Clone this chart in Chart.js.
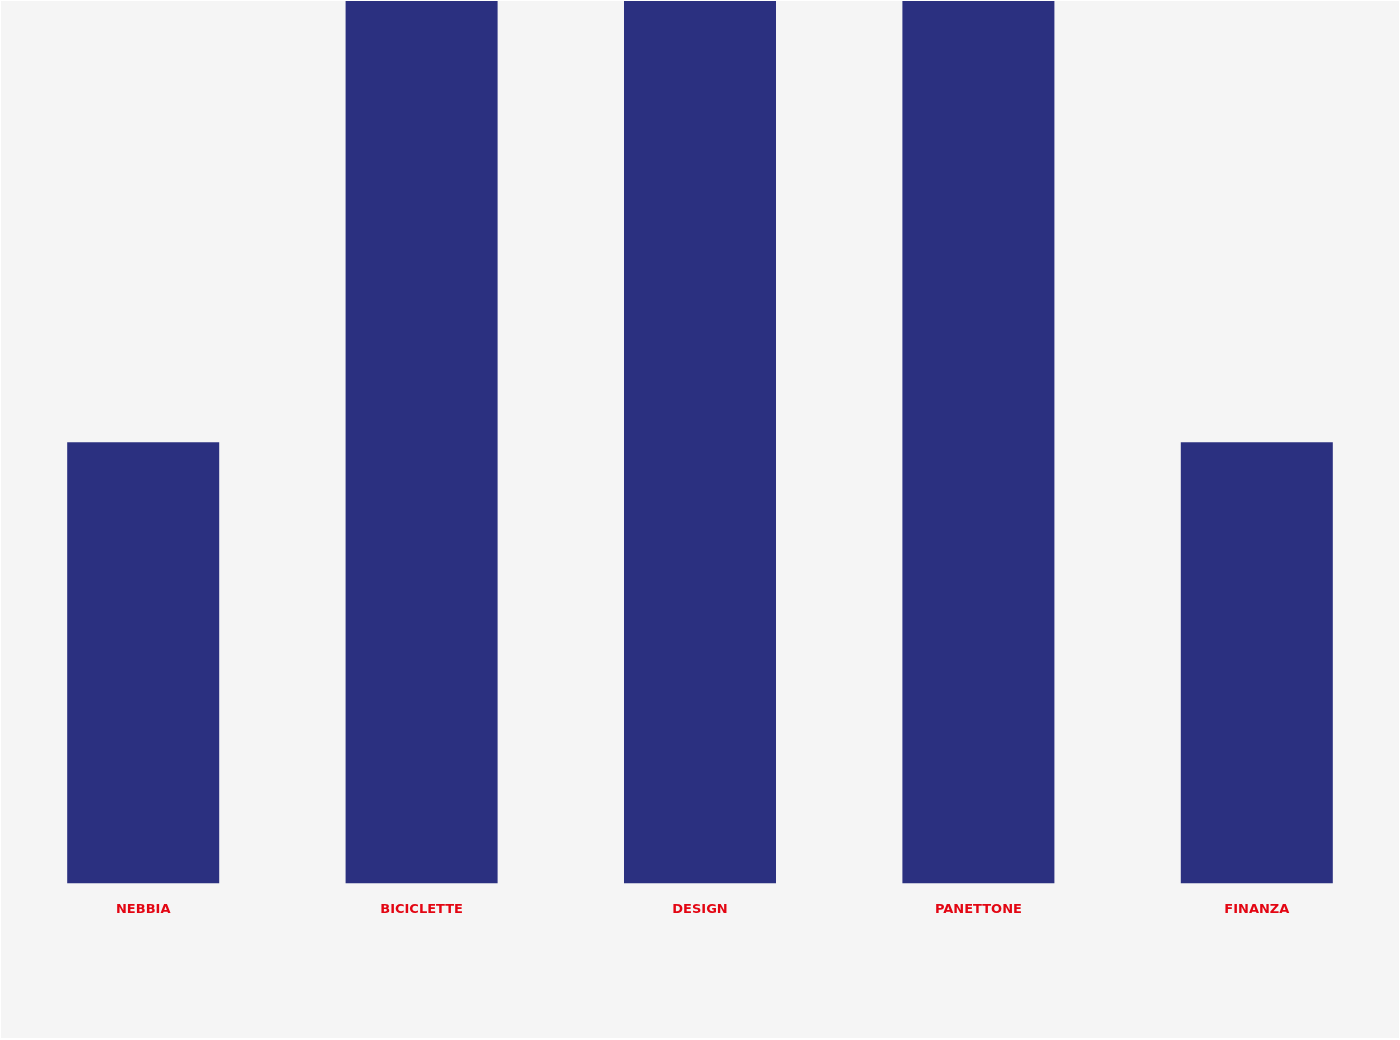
<!DOCTYPE html>
<html>
<head>
<meta charset="utf-8">
<script src="https://cdn.jsdelivr.net/npm/chart.js@4"></script>
<style>
  html, body { margin: 0; padding: 0; background: #ffffff; }
  #wrap { position: absolute; left: 1px; top: 1px; width: 1398px; height: 1037px; background: #f5f5f5; }
</style>
</head>
<body>
<div id="wrap"><canvas id="barChart"></canvas></div>
<script>
const categories = ['NEBBIA', 'BICICLETTE', 'DESIGN', 'PANETTONE', 'FINANZA'];
const values = [50, 100, 100, 100, 50];

document.addEventListener('DOMContentLoaded', () => {
    const ctx = document.getElementById('barChart').getContext('2d');

    new Chart(ctx, {
        type: 'bar',
        data: {
            labels: categories,
            datasets: [{
                data: values,
                backgroundColor: '#2b3080',
                categoryPercentage: 1,
                barPercentage: 0.546
            }]
        },
        options: {
            responsive: true,
            maintainAspectRatio: false,
            animation: false,
            layout: { padding: { left: 3, right: 3, top: 0, bottom: 111 } },
            plugins: {
                legend: { display: false },
                tooltip: { enabled: false }
            },
            scales: {
                x: {
                    grid: { display: false },
                    border: { display: false },
                    ticks: {
                        color: '#e30613',
                        padding: 10,
                        font: { family: 'DejaVu Sans', size: 13, weight: 'bold' }
                    }
                },
                y: {
                    display: false,
                    min: 0,
                    max: 100
                }
            }
        }
    });
});
</script>
</body>
</html>
